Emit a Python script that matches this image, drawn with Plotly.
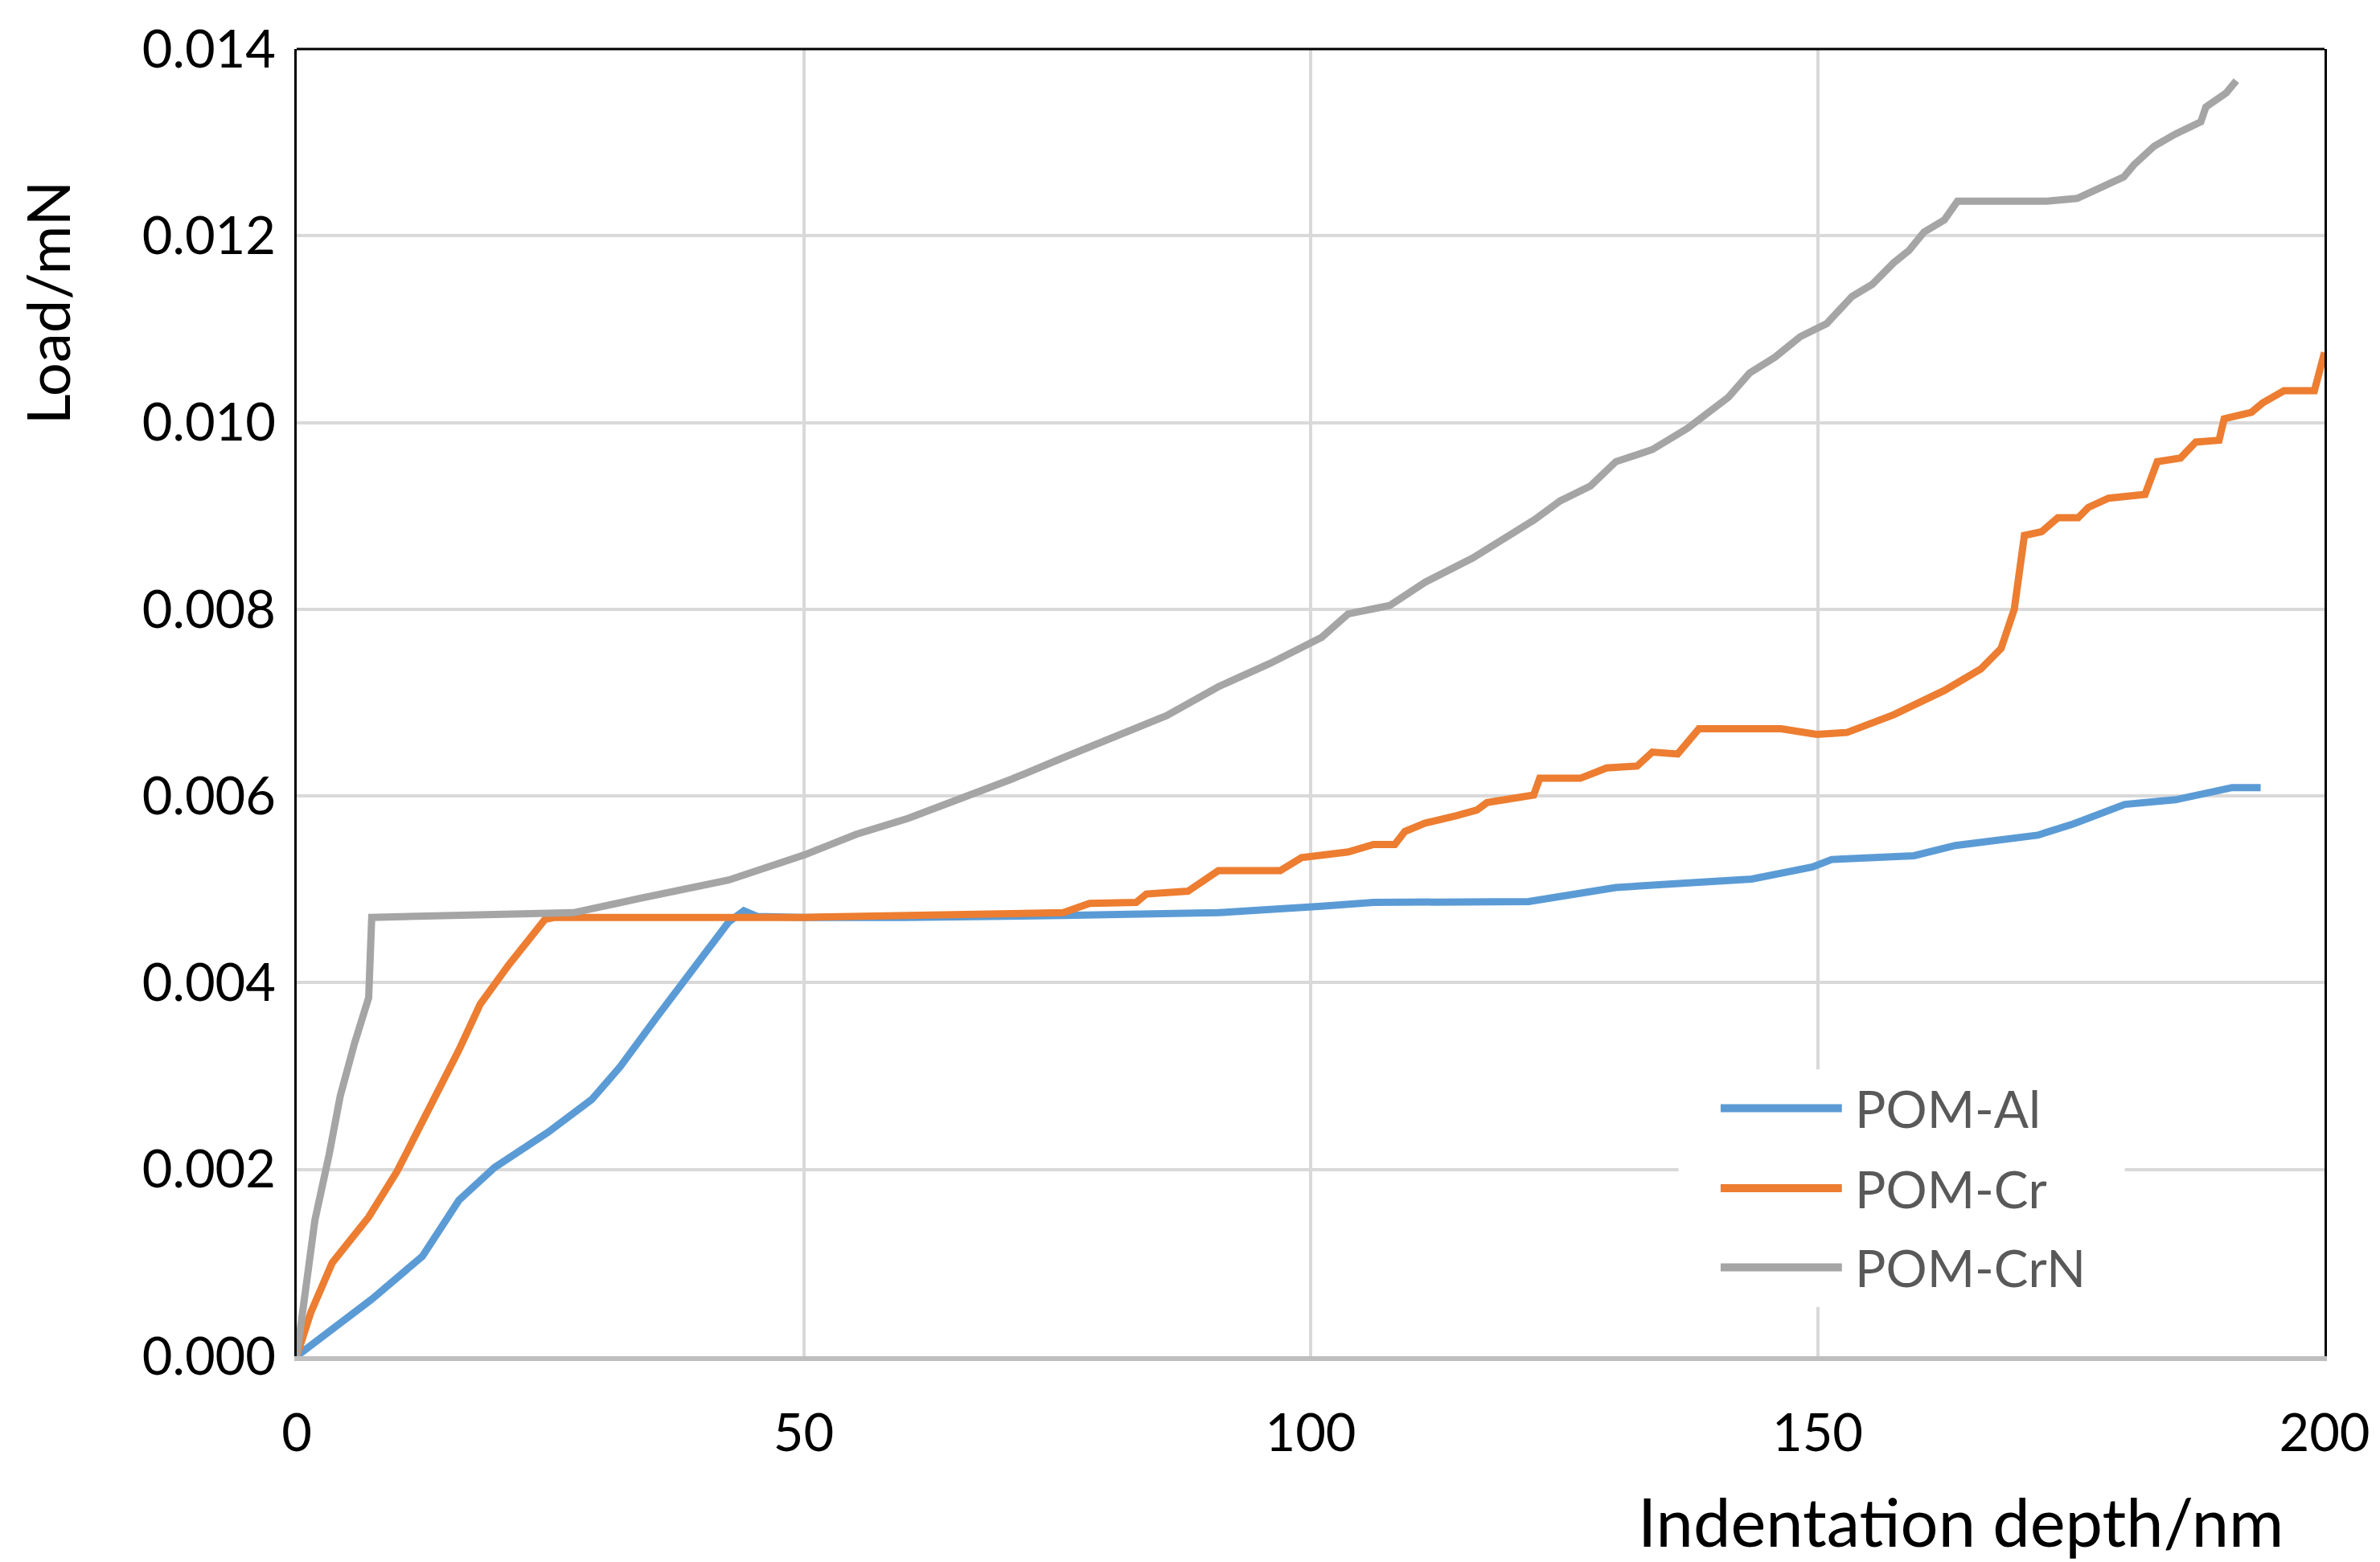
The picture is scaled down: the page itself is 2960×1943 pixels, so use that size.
import plotly.graph_objects as go

# series (depth in nm, load in mN)
al_depth = [0, 7.4, 12.4, 16, 19.5, 24.8, 29.1, 31.9, 35.5, 38.3, 42.6, 44.1, 45.4, 50, 60,
            75.6, 90.9, 101.1, 106.2, 121.5, 126.6, 130.1, 136, 143.5, 149.5, 151.4, 159.5,
            163.6, 171.7, 175.2, 180.3, 185.3, 190.9, 193.7]
al_load = [0, 0.00061, 0.00107, 0.00167, 0.00202, 0.0024, 0.00275, 0.0031, 0.00363, 0.00402,
           0.00465, 0.00477, 0.00471, 0.0047, 0.0047, 0.00472, 0.00475, 0.00482, 0.00486,
           0.00487, 0.00496, 0.00502, 0.00506, 0.00511, 0.00524, 0.00532, 0.00536, 0.00547,
           0.00558, 0.0057, 0.00591, 0.00596, 0.00609, 0.00609]

cr_depth = [0, 1.4, 3.5, 7.1, 9.9, 13.1, 16, 18.1, 20.9, 24.5, 25.5, 50, 75.6, 78.2, 82.8,
            83.8, 87.9, 90.9, 97, 99.1, 103.7, 106.2, 108.3, 109.3, 111.3, 114.4, 116.4,
            117.4, 122, 122.6, 126.6, 129.2, 132.2, 133.7, 136.2, 138.3, 146.4, 149.9, 152.9,
            157.5, 162.5, 166.1, 168.1, 169.4, 169.9, 170.4, 172.1, 173.7, 175.7, 176.7,
            178.7, 182.3, 183.5, 185.8, 187.3, 189.6, 190.1, 192.8, 193.9, 196, 199, 200]
cr_load = [0, 0.00047, 0.001, 0.00149, 0.00198, 0.00265, 0.00328, 0.00377, 0.00419, 0.00468,
           0.0047, 0.0047, 0.00475, 0.00485, 0.00486, 0.00495, 0.00498, 0.0052, 0.0052,
           0.00534, 0.0054, 0.00548, 0.00548, 0.00562, 0.00571, 0.00579, 0.00585, 0.00593,
           0.00601, 0.00619, 0.00619, 0.0063, 0.00632, 0.00647, 0.00645, 0.00672, 0.00672,
           0.00666, 0.00668, 0.00687, 0.00713, 0.00736, 0.00758, 0.008, 0.00838, 0.00879,
           0.00883, 0.00898, 0.00898, 0.00909, 0.00919, 0.00923, 0.00958, 0.00962, 0.00979,
           0.00981, 0.01004, 0.01011, 0.01021, 0.01034, 0.01034, 0.01075]

crn_depth = [0, 1.8, 3.2, 4.3, 5.7, 7.1, 7.4, 15, 27.3, 33.7, 42.6, 50.1, 55.2, 60.3, 65.4,
             70.5, 75.6, 80.7, 85.8, 90.9, 96, 101.1, 103.7, 107.8, 111.3, 116, 122.1, 124.6,
             127.6, 130.1, 133.7, 137.2, 141.2, 143.3, 145.8, 148.3, 150.9, 153.4, 155.4,
             157.5, 159, 160.5, 162.5, 163.8, 172.6, 175.6, 177.7, 180.2, 181.2, 183.2,
             185.3, 187.8, 188.3, 190.3, 191.3]
crn_load = [0, 0.00146, 0.00216, 0.00279, 0.00335, 0.00384, 0.0047, 0.00472, 0.00475, 0.0049,
            0.0051, 0.00537, 0.00559, 0.00576, 0.00596, 0.00618, 0.00641, 0.00663, 0.00686,
            0.00717, 0.00742, 0.0077, 0.00795, 0.00804, 0.00829, 0.00855, 0.00896, 0.00916,
            0.00932, 0.00958, 0.00971, 0.00994, 0.01027, 0.01053, 0.0107, 0.01092, 0.01106,
            0.01135, 0.01148, 0.01171, 0.01184, 0.01204, 0.01217, 0.01237, 0.01237, 0.0124,
            0.0125, 0.01263, 0.01276, 0.01296, 0.01309, 0.01322, 0.01338, 0.01353, 0.01366]

names = ["POM-Al", "POM-Cr", "POM-CrN"]
colors = ["#5B9BD5", "#ED7D31", "#A5A5A5"]
x_ticks = [0, 50, 100, 150, 200]
y_ticks = [0, 0.002, 0.004, 0.006, 0.008, 0.010, 0.012, 0.014]

FONT = "Lato"

fig = go.Figure()
for xs, ys, name, c in zip([al_depth, cr_depth, crn_depth], [al_load, cr_load, crn_load],
                           names, colors):
    fig.add_trace(go.Scatter(x=xs, y=ys, mode="lines", name=name,
                             line=dict(color=c, width=9)))

fig.update_xaxes(range=[0, 200], tickvals=x_ticks, showgrid=True, gridcolor="#D9D9D9",
                 gridwidth=4, zeroline=False, showline=True, linecolor="#BFBFBF",
                 linewidth=6, ticks="", ticklabelstandoff=34, ticklabeloverflow="allow",
                 tickfont=dict(family=FONT, size=65, color="black"))
fig.update_yaxes(range=[0, 0.014], tickvals=y_ticks, tickformat=".3f", showgrid=True,
                 gridcolor="#D9D9D9", gridwidth=4, zeroline=False, showline=True,
                 linecolor="black", linewidth=3, mirror=True, ticks="",
                 ticklabelstandoff=10, ticklabeloverflow="allow",
                 tickfont=dict(family=FONT, size=65, color="black"))

# top edge of the frame is black, bottom stays the grey axis line
fig.add_shape(type="line", xref="x domain", yref="y domain", x0=0, x1=1, y0=1, y1=1,
              line=dict(color="black", width=3))

# legend drawn by hand so the sample lines are as long as in the original
fig.add_shape(type="rect", xref="paper", yref="paper", x0=0.6815, x1=0.9015, y0=0.0376,
              y1=0.2194, fillcolor="white", line=dict(width=0), layer="above")
rows = [0.1897, 0.1285, 0.0679]
for name, c, ry in zip(names, colors, rows):
    fig.add_shape(type="line", xref="paper", yref="paper", x0=0.7022, x1=0.762, y0=ry,
                  y1=ry, line=dict(color=c, width=10), layer="above")
    fig.add_annotation(text=name, xref="paper", yref="paper", x=0.7677, y=ry,
                       xanchor="left", yanchor="middle", showarrow=False,
                       font=dict(family=FONT, size=64, color="#595959"))

fig.add_annotation(text="Indentation depth/nm", xref="paper", yref="paper", x=0.9806,
                   y=-0.126, xanchor="right", yanchor="middle", showarrow=False,
                   font=dict(family=FONT, size=83, color="black"))
fig.add_annotation(text="Load/mN", xref="paper", yref="paper", x=-0.123, y=0.806,
                   textangle=-90, xanchor="center", yanchor="middle", showarrow=False,
                   font=dict(family=FONT, size=74, color="black"))

fig.update_layout(width=2960, height=1943, showlegend=False,
                  plot_bgcolor="white", paper_bgcolor="white",
                  margin=dict(l=361, r=77, t=29, b=264))

fig.write_html("out.html")
